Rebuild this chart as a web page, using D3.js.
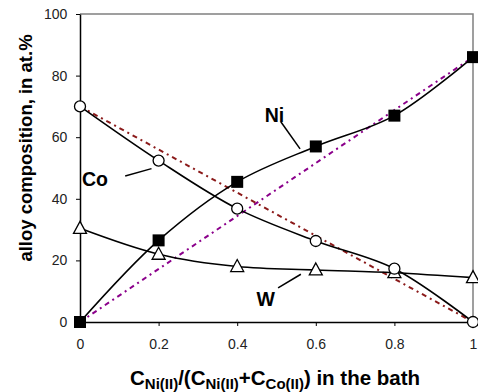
<!DOCTYPE html>
<html>
<head>
<meta charset="utf-8">
<script src="https://cdn.jsdelivr.net/npm/d3@7"></script>
<style>
  body { margin: 0; background: #fff; }
  text { font-family: Arial, "Liberation Sans", sans-serif; }
</style>
</head>
<body>
<div id="chart"></div>
<script>
const ratio = [0, 0.2, 0.4, 0.6, 0.8, 1]
const ni = [0, 26.5, 45.5, 57, 67, 86]
const co = [70, 52.4, 36.8, 26.3, 17.3, 0]
const w = [30.4, 22, 18, 16.9, 16, 14.4]
const niIdeal = [0, 86]
const coIdeal = [70, 0]
const xTicks = [0, 0.2, 0.4, 0.6, 0.8, 1]
const yTicks = [0, 20, 40, 60, 80, 100]

const width = 478
const height = 392
const margin = { left: 80, top: 14, right: 5, bottom: 70 }

const svg = d3.select('#chart').append('svg')
  .attr('width', width)
  .attr('height', height)

const x = d3.scaleLinear().domain([0, 1]).range([margin.left, width - margin.right])
const y = d3.scaleLinear().domain([0, 100]).range([height - margin.bottom, margin.top])

// plot border (top/right gray)
svg.append('path')
  .attr('d', `M${x(0)},${y(100)}H${x(1)}V${y(0)}`)
  .attr('fill', 'none')
  .attr('stroke', '#808080')
  .attr('stroke-width', 1.5)

const xAxis = svg.append('g')
  .attr('transform', `translate(0,${y(0)})`)
  .call(d3.axisBottom(x).tickValues(xTicks).tickSize(4).tickSizeOuter(0).tickFormat(d => d))
const yAxis = svg.append('g')
  .attr('transform', `translate(${x(0)},0)`)
  .call(d3.axisLeft(y).tickValues(yTicks).tickSize(4).tickSizeOuter(0))

;[xAxis, yAxis].forEach(a => {
  a.select('.domain').attr('stroke', '#000').attr('stroke-width', 1.5)
  a.selectAll('.tick line').attr('stroke', '#000')
  a.selectAll('.tick text').attr('font-size', 14).attr('fill', '#222')
    .attr('font-family', 'Arial, "Liberation Sans", sans-serif')
})
xAxis.selectAll('.tick text').attr('dy', '1.4em')
yAxis.selectAll('.tick text').attr('dx', '-0.4em')

// ideal (dashed) lines
const ideal = d3.line().x(d => x(d[0])).y(d => y(d[1]))
svg.append('path')
  .attr('d', ideal([[0, niIdeal[0]], [1, niIdeal[1]]]))
  .attr('fill', 'none').attr('stroke', '#8B008B').attr('stroke-width', 2)
  .attr('stroke-dasharray', '5,4,2,4')
svg.append('path')
  .attr('d', ideal([[0, coIdeal[0]], [1, coIdeal[1]]]))
  .attr('fill', 'none').attr('stroke', '#8B1A1A').attr('stroke-width', 2)
  .attr('stroke-dasharray', '5,4,2,4')

const line = d3.line().x((d, i) => x(ratio[i])).y(d => y(d)).curve(d3.curveCatmullRom.alpha(0.5))

const series = [
  { values: w, symbol: 'triangle' },
  { values: co, symbol: 'circle' },
  { values: ni, symbol: 'square' },
]

series.forEach(s => {
  svg.append('path')
    .attr('d', line(s.values))
    .attr('fill', 'none').attr('stroke', '#000').attr('stroke-width', 1.6)
})

series.forEach(s => {
  const g = svg.append('g')
  s.values.forEach((v, i) => {
    const cx = x(ratio[i])
    const cy = y(v)
    if (s.symbol === 'square') {
      g.append('rect').attr('x', cx - 6).attr('y', cy - 6).attr('width', 12).attr('height', 12)
        .attr('fill', '#000')
    } else if (s.symbol === 'circle') {
      g.append('circle').attr('cx', cx).attr('cy', cy).attr('r', 5.5)
        .attr('fill', '#fff').attr('stroke', '#000').attr('stroke-width', 1.3)
    } else {
      g.append('path')
        .attr('d', `M${cx},${cy - 7}L${cx + 6.5},${cy + 5}L${cx - 6.5},${cy + 5}Z`)
        .attr('fill', '#fff').attr('stroke', '#000').attr('stroke-width', 1.3)
    }
  })
})

// series labels with leader lines
const labels = [
  { text: 'Ni', tx: 0.47, ty: 65, lx1: 0.511, ly1: 65, lx2: 0.56, ly2: 56.2 },
  { text: 'Co', tx: 0.005, ty: 44.2, lx1: 0.115, ly1: 47.4, lx2: 0.182, ly2: 49.8 },
  { text: 'W', tx: 0.449, ty: 5.2, lx1: 0.504, ly1: 11.1, lx2: 0.562, ly2: 15.5 },
]
labels.forEach(l => {
  svg.append('text')
    .attr('x', x(l.tx)).attr('y', y(l.ty))
    .attr('font-size', 19.5).attr('font-weight', 'bold').attr('fill', '#000')
    .text(l.text)
  svg.append('line')
    .attr('x1', x(l.lx1)).attr('y1', y(l.ly1))
    .attr('x2', x(l.lx2)).attr('y2', y(l.ly2))
    .attr('stroke', '#000').attr('stroke-width', 1.5)
})

// axis titles
svg.append('text')
  .attr('transform', `translate(32,148) rotate(-90)`)
  .attr('text-anchor', 'middle')
  .attr('font-size', 18.5).attr('font-weight', 'bold')
  .text('alloy composition, in at.%')

const xt = svg.append('text')
  .attr('x', 130).attr('y', 385)
  .attr('font-size', 20.5).attr('font-weight', 'bold')
const parts = [
  ['C', 0], ['Ni(II)', 1], ['/(C', 0], ['Ni(II)', 1], ['+C', 0], ['Co(II)', 1], [') in the bath', 0],
]
let prevSub = false
parts.forEach(([t, sub]) => {
  const ts = xt.append('tspan').text(t)
  if (sub) ts.attr('font-size', 15).attr('dy', 4)
  else if (prevSub) ts.attr('dy', -4)
  prevSub = !!sub
})
</script>
</body>
</html>
